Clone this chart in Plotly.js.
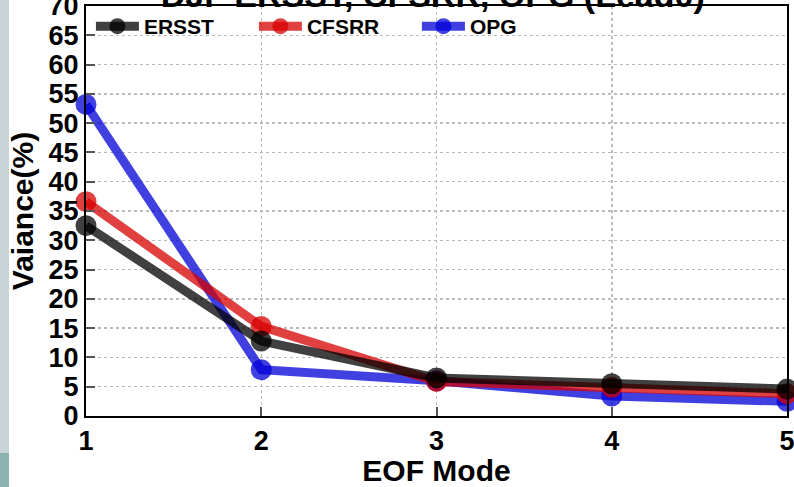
<!DOCTYPE html>
<html><head><meta charset="utf-8">
<script src="https://cdn.plot.ly/plotly-3.0.1.min.js"></script>
<style>html,body{margin:0;padding:0;background:#fff;}#chart{width:794px;height:487px;}</style>
</head><body><div id="chart"></div>
<script>
const modes = [1, 2, 3, 4, 5];
const ersst = [32.5, 12.8, 6.5, 5.5, 4.6];
const cfsrr = [36.6, 15.3, 5.9, 4.9, 3.8];
const opg = [53.2, 7.9, 6.0, 3.4, 2.5];
const seriesNames = ['ERSST', 'CFSRR', 'OPG'];
const yTicks = [0,5,10,15,20,25,30,35,40,45,50,55,60,65,70];

const F = 'Liberation Sans, Arial, sans-serif';
function tr(name, ys, col, rank) {
  return {x: modes, y: ys, name: name, type: 'scatter', mode: 'lines+markers',
    line: {color: col, width: 9}, marker: {color: col, size: 21},
    legendrank: rank, cliponaxis: false};
}
const data = [
  tr(seriesNames[2], opg, 'rgba(0,0,215,0.75)', 3),
  tr(seriesNames[1], cfsrr, 'rgba(215,0,0,0.75)', 2),
  tr(seriesNames[0], ersst, 'rgba(0,0,0,0.75)', 1)
];
const layout = {
  width: 794, height: 487,
  margin: {l: 86, r: 7, t: 6, b: 71},
  paper_bgcolor: '#fff', plot_bgcolor: '#fff',
  font: {family: F, color: '#000', weight: 'bold'},
  title: {text: 'DJF ERSST, CFSRR, OPG (Lead0)', font: {size: 34, family: F, weight: 'bold', color: '#000'},
    x: 0.545, xanchor: 'center', yref: 'container', y: 0.985, yanchor: 'bottom'},
  showlegend: true,
  legend: {orientation: 'h', x: 0.007, xanchor: 'left', y: 1, yanchor: 'top',
    bgcolor: 'rgba(0,0,0,0)', font: {size: 21, family: F, weight: 'bold'},
    entrywidth: 105, entrywidthmode: 'pixels', itemwidth: 43},
  xaxis: {range: [1, 5], tickvals: modes, ticktext: modes.map(String),
    showline: true, linecolor: '#000', linewidth: 2, mirror: true,
    ticks: 'inside', ticklen: 9, tickwidth: 2, tickcolor: '#555',
    showgrid: true, gridcolor: '#bbb', griddash: 'dot', gridwidth: 1.5,
    zeroline: false, tickfont: {size: 27, family: F, weight: 'bold'}, ticklabeloverflow: 'allow',
    title: {text: 'EOF Mode', font: {size: 30, family: F, weight: 'bold'}, standoff: 12}},
  yaxis: {range: [0, 70], tickvals: yTicks,
    showline: true, linecolor: '#000', linewidth: 2, mirror: true,
    ticks: 'inside', ticklen: 9, tickwidth: 2, tickcolor: '#555',
    showgrid: true, gridcolor: '#bbb', griddash: 'dot', gridwidth: 1.5,
    zeroline: false, tickfont: {size: 27, family: F, weight: 'bold'}, ticklabeloverflow: 'allow',
    title: {text: 'Vaiance(%)', font: {size: 30, family: F, weight: 'bold'}, standoff: 6}},
  shapes: [
    {type: 'rect', xref: 'paper', yref: 'paper', x0: -86/701, x1: -77/701, y0: -37/410, y1: 416/410,
      fillcolor: '#c8d4d8', line: {width: 0}, layer: 'below'},
    {type: 'rect', xref: 'paper', yref: 'paper', x0: -86/701, x1: -77/701, y0: -71/410, y1: -37/410,
      fillcolor: '#8db3b0', line: {width: 0}, layer: 'below'}
  ]
};
Plotly.newPlot('chart', data, layout, {displayModeBar: false, staticPlot: true});
</script></body></html>
